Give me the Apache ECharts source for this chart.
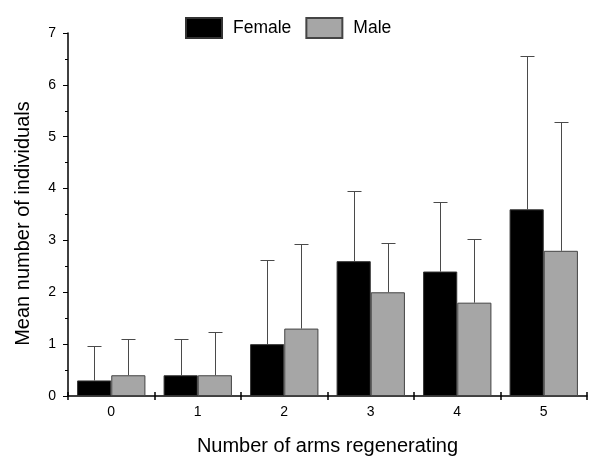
<!DOCTYPE html>
<html><head><meta charset="utf-8">
<script src="https://cdn.jsdelivr.net/npm/echarts@6/dist/echarts.min.js"></script>
<style>html,body{margin:0;padding:0;background:#fff}#c{width:593px;height:456px}</style>
</head><body><div id="c"></div>
<script>
const categories = ['0','1','2','3','4','5'];
const femaleMean = [0.3, 0.4, 1.0, 2.6, 2.4, 3.6];
const maleMean = [0.4, 0.4, 1.3, 2.0, 1.8, 2.8];
const femaleUpper = [0.97, 1.1, 2.63, 3.95, 3.75, 6.55];
const maleUpper = [1.1, 1.23, 2.93, 2.95, 3.03, 5.28];
const yTicks = [0, 1, 2, 3, 4, 5, 6, 7];

const BAR_FRAC = 0.395;
function errRender(offsetSign){
  return function(params, api){
    const i = api.value(0);
    const base = api.coord([i, api.value(1)]);
    const top = api.coord([i, api.value(2)]);
    const bw = api.size([1, 0])[0];
    const x = Math.round(base[0] + offsetSign * bw * BAR_FRAC / 2) + 0.5;
    const ty = Math.round(top[1]) + 0.5;
    const cap = 7;
    return {type:'group', children:[
      {type:'line', shape:{x1:x, y1:base[1], x2:x, y2:ty}, style:{stroke:'#4a4a4a', lineWidth:1}},
      {type:'line', shape:{x1:x-cap, y1:ty, x2:x+cap, y2:ty}, style:{stroke:'#4a4a4a', lineWidth:1}}
    ]};
  };
}

const chart = echarts.init(document.getElementById('c'));
chart.setOption({
  animation:false,
  textStyle:{fontFamily:'Liberation Sans, Arial, sans-serif'},
  legend:{
    data:['Female','Male'], top:12, left:180, itemWidth:36, itemHeight:20, itemGap:14,
    textStyle:{fontSize:17.5, color:'#000', padding:[0,0,0,6]}, icon:'rect'
  },
  grid:{left:68, right:6, top:33, bottom:60, outerBoundsMode:'none', containLabel:false},
  xAxis:[{
    type:'category', data:categories,
    name:'Number of arms regenerating', nameLocation:'middle', nameGap:40,
    nameTextStyle:{fontSize:20, color:'#000'},
    axisLine:{lineStyle:{color:'#000', width:1.5}},
    axisTick:{show:true, length:4, lineStyle:{color:'#000', width:1.5}},
    axisLabel:{fontSize:14, color:'#000', margin:9}
  },{
    type:'category', data:categories, position:'bottom',
    axisLine:{show:false},
    axisTick:{show:true, inside:true, length:4, lineStyle:{color:'#000', width:1.5}},
    axisLabel:{show:false}
  }],
  yAxis:{
    type:'value', min:yTicks[0], max:yTicks[yTicks.length-1], interval:1,
    name:'Mean number of individuals', nameLocation:'middle', nameGap:35,
    nameTextStyle:{fontSize:20, color:'#000', padding:[0,18,0,0]},
    axisLine:{show:true, lineStyle:{color:'#000', width:1.5}},
    axisTick:{show:true, length:5, lineStyle:{color:'#000'}},
    minorTick:{show:true, splitNumber:2, length:3, lineStyle:{color:'#000'}},
    splitLine:{show:false},
    axisLabel:{fontSize:14, color:'#000', margin:12}
  },
  series:[
    {name:'Female', type:'bar', data:femaleMean, barWidth:(BAR_FRAC*100)+'%', barGap:'0%',
     itemStyle:{color:'#000', borderColor:'#333', borderWidth:1}, z:2},
    {name:'Male', type:'bar', data:maleMean, barWidth:(BAR_FRAC*100)+'%', barGap:'0%',
     itemStyle:{color:'#a6a6a6', borderColor:'#444', borderWidth:1}, z:2},
    {type:'custom', renderItem:errRender(-1), encode:{x:0, y:[1,2]},
     data:femaleMean.map((v,i)=>[i, v, femaleUpper[i]]), z:1},
    {type:'custom', renderItem:errRender(1), encode:{x:0, y:[1,2]},
     data:maleMean.map((v,i)=>[i, v, maleUpper[i]]), z:1}
  ]
});
</script></body></html>
